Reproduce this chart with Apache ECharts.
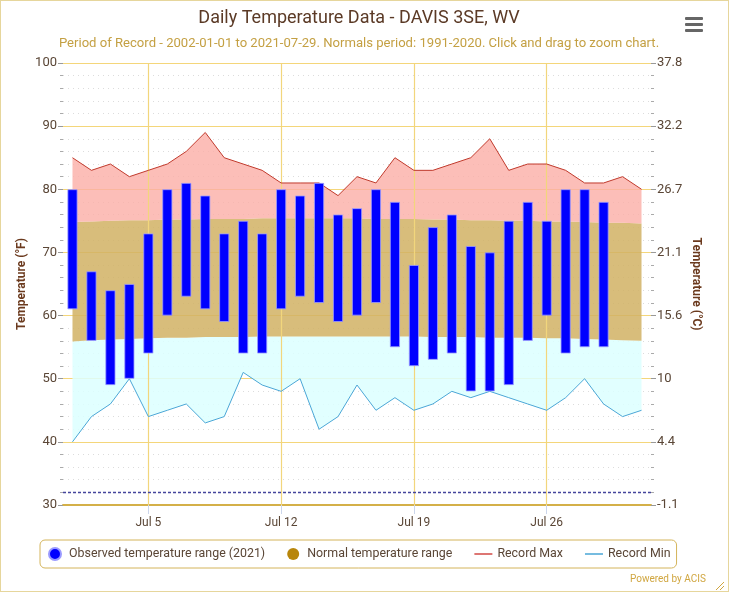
<!DOCTYPE html>
<html lang="en">
<head>
    <meta charset="UTF-8">
    <title>Daily Temperature Data - DAVIS 3SE, WV</title>
    <script src="https://cdn.jsdelivr.net/npm/echarts@6.0.0/dist/echarts.min.js"></script>
    <style>
        body {margin:0; background:#fff}
        #frame {position:absolute; left:0; top:0; width:727px; height:590px; border:1px solid #e6d69c}
        #main {width:730px; height:595px; position:absolute; left:0; top:0}
    </style>
</head>
<body>
<div id="frame"></div>
<div id="main"></div>
<script>
    // days shown on the x axis
    var days = [];
    for (var d = 1; d <= 31; d++) {
        days.push('Jul ' + d);
    }
    var labelDays = ['Jul 5', 'Jul 12', 'Jul 19', 'Jul 26'];

    // observed 2021 (°F), Jul 1 .. Jul 29
    var obsHigh = [80, 67, 64, 65, 73, 80, 81, 79, 73, 75, 73, 80, 79, 81, 76, 77, 80, 78, 68, 74, 76, 71, 70, 75, 78, 75, 80, 80, 78];
    var obsLow  = [61, 56, 49, 50, 54, 60, 63, 61, 59, 54, 54, 61, 63, 62, 59, 60, 62, 55, 52, 53, 54, 48, 48, 49, 56, 60, 54, 55, 55];

    // normals 1991-2020
    var normHigh = [74.8, 74.9, 75.0, 75.1, 75.1, 75.2, 75.2, 75.3, 75.3, 75.3, 75.4, 75.4, 75.4, 75.4, 75.4, 75.4,
        75.3, 75.3, 75.3, 75.2, 75.2, 75.1, 75.1, 75.0, 75.0, 74.9, 74.9, 74.8, 74.7, 74.7, 74.6];
    var normLow = [55.9, 56.1, 56.2, 56.3, 56.4, 56.5, 56.5, 56.6, 56.6, 56.6, 56.7, 56.7, 56.7, 56.7, 56.7, 56.7,
        56.7, 56.7, 56.7, 56.6, 56.6, 56.6, 56.5, 56.5, 56.5, 56.4, 56.4, 56.3, 56.2, 56.1, 56.0];

    // records
    var recMax = [85, 83, 84, 82, 83, 84, 86, 89, 85, 84, 83, 81, 81, 81, 79, 82, 81, 85, 83, 83, 84, 85, 88, 83, 84, 84, 83, 81, 81, 82, 80];
    var recMin = [40, 44, 46, 50, 44, 45, 46, 43, 44, 51, 49, 48, 50, 42, 44, 49, 45, 47, 45, 46, 48, 47, 48, 47, 46, 45, 47, 50, 46, 44, 45];

    var freezing = 32;

    // stacked pieces for the bands and floating bars
    var bandCold = [], bandNorm = [], bandWarm = [], barSpan = [];
    for (var i = 0; i < days.length; i++) {
        bandCold.push(+(normLow[i] - recMin[i]).toFixed(2));
        bandNorm.push(+(normHigh[i] - normLow[i]).toFixed(2));
        bandWarm.push(+(recMax[i] - normHigh[i]).toFixed(2));
    }
    for (var j = 0; j < obsHigh.length; j++) {
        barSpan.push(obsHigh[j] - obsLow[j]);
    }

    function toC(v) {
        return String(Math.round((v - 32) * 5 / 9 * 10) / 10);
    }

    var txt = '#5a4636';
    var font = 'Roboto';
    // thin line icon for the record legend entries
    var lineIcon = 'path://M0,0h0.01v0.01h-0.01z M0,5.3h18v1.4h-18z M0,12h0.01v-0.01h-0.01z';

    var chart = echarts.init(document.getElementById('main'));
    chart.setOption({
        animation: false,
        textStyle: {fontFamily: font},
        graphic: [
            {type: 'text', x: 359, y: 9, style: {
                text: 'Daily Temperature Data - DAVIS 3SE, WV', fontSize: 18, fill: '#5b3a26', fontFamily: font, align: 'center'}},
            {type: 'text', x: 359, y: 37, style: {
                text: 'Period of Record - 2002-01-01 to 2021-07-29. Normals period: 1991-2020. Click and drag to zoom chart.',
                fontSize: 13.1, fill: '#c4a043', fontFamily: font, align: 'center'}},
            {type: 'rect', shape: {x: 685, y: 17, width: 18, height: 3, r: 1}, style: {fill: '#666'}},
            {type: 'rect', shape: {x: 685, y: 23, width: 18, height: 3, r: 1}, style: {fill: '#666'}},
            {type: 'rect', shape: {x: 685, y: 29, width: 18, height: 3, r: 1}, style: {fill: '#666'}},
            {type: 'text', x: 630, y: 574, style: {
                text: 'Powered by ACIS', fontSize: 10, fill: '#d0a640', fontFamily: font}},
            {type: 'polyline', shape: {points: [[716, 590], [724, 582]]}, style: {stroke: '#d0a640', lineWidth: 1}},
            {type: 'polyline', shape: {points: [[720, 590], [724, 586]]}, style: {stroke: '#d0a640', lineWidth: 1}}
        ],
        legend: {
            left: 40,
            top: 540,
            padding: [7, 6, 7, 8],
            itemGap: 22,
            itemWidth: 18,
            itemHeight: 12,
            borderColor: '#d4b45a',
            borderWidth: 1,
            borderRadius: 5,
            textStyle: {color: txt, fontSize: 12.4, fontFamily: font},
            data: [
                {name: 'Observed temperature range (2021)', icon: 'circle', itemStyle: {color: '#0000ff'}},
                {name: 'Normal temperature range', icon: 'circle', itemStyle: {color: '#b8860b'}},
                {name: 'Record Max', icon: lineIcon},
                {name: 'Record Min', icon: lineIcon}
            ]
        },
        grid: {left: 63, right: 79, top: 63, bottom: 90},
        xAxis: [{
            type: 'category',
            data: days,
            boundaryGap: true,
            axisLine: {show: true, lineStyle: {color: '#d4b048', width: 2}},
            axisTick: {
                show: true, alignWithLabel: true, length: 9,
                interval: function (idx, val) { return labelDays.indexOf(val) >= 0; },
                lineStyle: {color: '#ccd6eb'}
            },
            axisLabel: {
                color: txt, fontSize: 12, margin: 12,
                interval: function (idx, val) { return labelDays.indexOf(val) >= 0; }
            },
            splitLine: {show: false}
        }],
        yAxis: [{
            type: 'value',
            min: 30, max: 100, interval: 10,
            name: 'Temperature (°F)',
            nameLocation: 'middle',
            nameRotate: 90,
            nameGap: 35,
            nameMoveOverlap: false,
            nameTextStyle: {color: '#6b3a1e', fontWeight: 'bold', fontSize: 12},
            axisLine: {show: false},
            axisTick: {show: true, length: 5, lineStyle: {color: '#999'}},
            minorTick: {show: true, splitNumber: 5, length: 3, lineStyle: {color: '#aaa'}},
            axisLabel: {color: txt, fontSize: 13, margin: 6},
            splitLine: {show: true, lineStyle: {color: '#f4d67a', width: 1}},
            minorSplitLine: {show: true, lineStyle: {color: '#dcdcdc', type: [1, 4]}}
        }, {
            type: 'value',
            min: 30, max: 100, interval: 10,
            position: 'right',
            name: 'Temperature (°C)',
            nameLocation: 'middle',
            nameRotate: -90,
            nameGap: 39,
            nameMoveOverlap: false,
            nameTextStyle: {color: '#6b3a1e', fontWeight: 'bold', fontSize: 12},
            axisLine: {show: false},
            axisTick: {show: true, length: 5, lineStyle: {color: '#999'}},
            minorTick: {show: true, splitNumber: 5, length: 3, lineStyle: {color: '#aaa'}},
            axisLabel: {color: txt, fontSize: 13, margin: 6, formatter: toC},
            splitLine: {show: false}
        }],
        series: [
            {
                name: 'base', type: 'line', stack: 'bands', data: recMin,
                symbol: 'none', lineStyle: {opacity: 0}, silent: true, z: 1,
                markLine: {
                    silent: true, symbol: 'none', label: {show: false}, z: 2,
                    lineStyle: {color: '#f2d67c', type: 'solid', width: 1.2},
                    data: labelDays.map(function (dd) { return {xAxis: dd}; })
                }
            },
            {
                name: 'cold', type: 'line', stack: 'bands', data: bandCold,
                symbol: 'none', lineStyle: {opacity: 0}, silent: true, z: 1,
                areaStyle: {color: 'rgb(220,255,255)', opacity: 0.85}
            },
            {
                name: 'Normal temperature range', type: 'line', stack: 'bands', data: bandNorm,
                symbol: 'none', lineStyle: {opacity: 0}, z: 1,
                itemStyle: {color: '#b8860b'},
                areaStyle: {color: 'rgb(209,178,100)', opacity: 0.85}
            },
            {
                name: 'warm', type: 'line', stack: 'bands', data: bandWarm,
                symbol: 'none', lineStyle: {opacity: 0}, silent: true, z: 1,
                areaStyle: {color: 'rgb(251,174,166)', opacity: 0.8}
            },
            {
                name: 'Record Max', type: 'line', data: recMax, symbol: 'none', z: 3,
                itemStyle: {color: '#d24a45'},
                lineStyle: {color: '#c0392b', width: 1}
            },
            {
                name: 'Record Min', type: 'line', data: recMin, symbol: 'none', z: 3,
                itemStyle: {color: '#4aa6d6'},
                lineStyle: {color: '#4aa6d6', width: 1},
                markLine: {
                    silent: true, symbol: 'none', label: {show: false}, z: 3,
                    lineStyle: {color: '#45459c', type: [3, 2], width: 1.3},
                    data: [{yAxis: freezing}]
                }
            },
            {
                name: 'lowBase', type: 'bar', stack: 'obs', data: obsLow, barWidth: 10,
                itemStyle: {color: 'transparent'}, silent: true, z: 4
            },
            {
                name: 'Observed temperature range (2021)', type: 'bar', stack: 'obs', data: barSpan, barWidth: 10,
                itemStyle: {color: '#0000ff', borderColor: '#9a9aff', borderWidth: 0.8}, z: 4
            }
        ]
    });
</script>
</body>
</html>
